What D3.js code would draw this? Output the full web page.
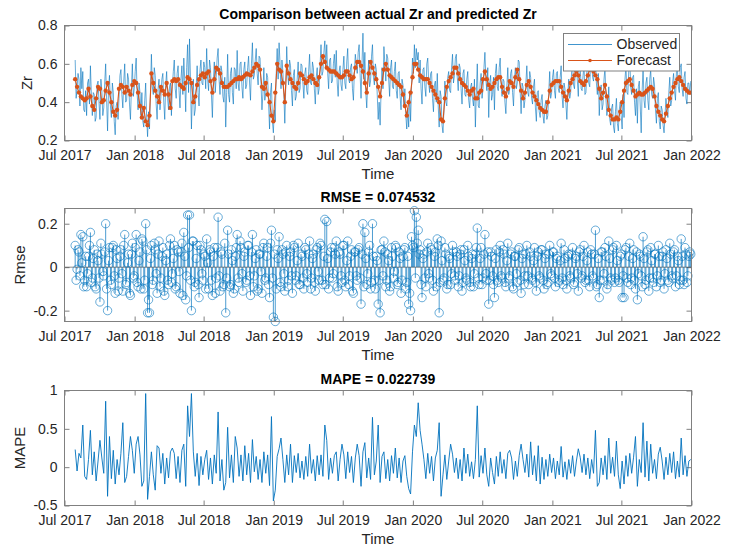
<!DOCTYPE html>
<html>
<head>
<meta charset="utf-8">
<script src="https://cdn.jsdelivr.net/npm/d3@7"></script>
<style>
  body { margin: 0; background: #fff; }
  text { font-family: Helvetica, Arial, "Liberation Sans", sans-serif; }
</style>
</head>
<body>
<svg id="fig"></svg>
<script>
// sampling of the series: main values every 5 days, "B" values half way between
const startDate = new Date(2017, 6, 29);
const stepDays = 5;

// Forecast Zr (orange, dots)
const forecast = [
  0.52,0.48,0.45,0.43,0.42,0.41,0.42,0.47,0.43,0.38,
  0.36,0.42,0.48,0.47,0.40,0.41,0.46,0.50,0.45,0.40,
  0.35,0.33,0.36,0.47,0.49,0.48,0.45,0.48,0.46,0.44,
  0.49,0.51,0.50,0.45,0.38,0.32,0.37,0.30,0.28,0.33,
  0.55,0.50,0.46,0.43,0.40,0.48,0.46,0.44,0.50,0.44,
  0.37,0.51,0.52,0.51,0.52,0.49,0.48,0.47,0.50,0.53,
  0.52,0.50,0.40,0.43,0.49,0.52,0.54,0.55,0.53,0.55,
  0.56,0.51,0.45,0.52,0.58,0.57,0.55,0.50,0.48,0.48,
  0.48,0.49,0.50,0.51,0.52,0.52,0.53,0.52,0.53,0.54,
  0.55,0.545,0.54,0.56,0.58,0.60,0.59,0.57,0.48,0.47,
  0.50,0.44,0.40,0.33,0.30,0.45,0.60,0.57,0.56,0.50,
  0.40,0.59,0.55,0.52,0.50,0.48,0.47,0.50,0.55,0.54,
  0.52,0.50,0.51,0.53,0.54,0.52,0.50,0.49,0.53,0.60,
  0.64,0.61,0.58,0.57,0.56,0.56,0.56,0.55,0.54,0.53,
  0.53,0.54,0.56,0.56,0.54,0.52,0.53,0.58,0.61,0.61,
  0.59,0.56,0.50,0.45,0.55,0.61,0.58,0.55,0.52,0.48,
  0.43,0.50,0.57,0.60,0.57,0.54,0.53,0.52,0.51,0.50,
  0.49,0.48,0.44,0.38,0.33,0.40,0.45,0.53,0.60,0.60,
  0.57,0.54,0.53,0.52,0.52,0.52,0.50,0.48,0.46,0.44,
  0.42,0.40,0.31,0.30,0.42,0.48,0.51,0.53,0.55,0.58,
  0.58,0.55,0.52,0.50,0.49,0.48,0.46,0.44,0.46,0.47,
  0.42,0.42,0.45,0.46,0.52,0.56,0.52,0.49,0.47,0.48,
  0.50,0.52,0.53,0.53,0.48,0.45,0.43,0.47,0.51,0.50,
  0.48,0.53,0.57,0.52,0.46,0.42,0.45,0.49,0.51,0.48,
  0.45,0.43,0.41,0.39,0.37,0.36,0.35,0.35,0.40,0.46,
  0.49,0.50,0.51,0.51,0.51,0.48,0.45,0.43,0.41,0.46,
  0.50,0.52,0.54,0.56,0.54,0.51,0.50,0.49,0.51,0.54,
  0.57,0.58,0.56,0.54,0.52,0.47,0.42,0.45,0.49,0.43,
  0.36,0.33,0.31,0.31,0.32,0.31,0.35,0.40,0.46,0.50,
  0.51,0.52,0.49,0.46,0.43,0.44,0.45,0.44,0.44,0.45,
  0.46,0.47,0.48,0.47,0.43,0.38,0.35,0.33,0.31,0.30,
  0.34,0.38,0.42,0.45,0.48,0.50,0.52,0.53,0.51,0.49,
  0.47,0.46,0.45,0.45
];

// Observed Zr (blue line), on the forecast dates
const observed = [
  0.62,0.47,0.52,0.58,0.56,0.35,0.33,0.52,0.59,0.33,
  0.44,0.32,0.51,0.31,0.46,0.37,0.60,0.25,0.54,0.32,
  0.45,0.23,0.40,0.42,0.57,0.37,0.60,0.41,0.52,0.31,
  0.60,0.47,0.63,0.36,0.45,0.45,0.27,0.50,0.22,0.26,
  0.65,0.44,0.54,0.31,0.52,0.43,0.55,0.31,0.56,0.36,
  0.50,0.48,0.62,0.42,0.59,0.37,0.59,0.63,0.35,0.70,
  0.73,0.26,0.52,0.36,0.59,0.38,0.62,0.49,0.58,0.68,
  0.46,0.58,0.32,0.61,0.53,0.68,0.44,0.56,0.40,0.27,
  0.65,0.40,0.58,0.39,0.57,0.67,0.46,0.61,0.42,0.61,
  0.49,0.64,0.41,0.71,0.54,0.68,0.49,0.63,0.36,0.58,
  0.45,0.53,0.26,0.50,0.24,0.30,0.68,0.71,0.47,0.56,
  0.29,0.69,0.49,0.59,0.38,0.57,0.43,0.61,0.47,0.59,
  0.42,0.58,0.44,0.65,0.49,0.58,0.39,0.58,0.47,0.70,
  0.56,0.72,0.70,0.47,0.63,0.51,0.65,0.67,0.43,0.59,
  0.46,0.64,0.47,0.68,0.50,0.60,0.41,0.65,0.55,0.70,
  0.42,0.76,0.66,0.37,0.62,0.51,0.70,0.49,0.57,0.31,
  0.28,0.58,0.69,0.51,0.63,0.43,0.62,0.47,0.61,0.42,
  0.56,0.36,0.49,0.47,0.26,0.27,0.30,0.63,0.70,0.68,
  0.66,0.62,0.39,0.58,0.43,0.63,0.45,0.56,0.35,0.51,
  0.55,0.27,0.43,0.24,0.51,0.38,0.56,0.45,0.65,0.54,
  0.65,0.46,0.58,0.39,0.57,0.43,0.56,0.37,0.50,0.38,
  0.27,0.60,0.37,0.55,0.47,0.66,0.46,0.32,0.54,0.44,
  0.36,0.60,0.46,0.63,0.43,0.51,0.34,0.58,0.47,0.57,
  0.38,0.58,0.50,0.61,0.34,0.48,0.41,0.59,0.43,0.53,
  0.39,0.52,0.30,0.46,0.32,0.44,0.29,0.41,0.33,0.56,
  0.45,0.57,0.42,0.56,0.45,0.59,0.37,0.47,0.31,0.52,
  0.45,0.61,0.47,0.61,0.43,0.59,0.46,0.59,0.45,0.61,
  0.48,0.64,0.51,0.65,0.44,0.33,0.49,0.39,0.58,0.33,
  0.48,0.28,0.39,0.24,0.42,0.25,0.40,0.26,0.32,0.59,
  0.44,0.63,0.44,0.54,0.33,0.29,0.51,0.24,0.58,0.37,
  0.53,0.36,0.57,0.42,0.49,0.29,0.45,0.26,0.36,0.24,
  0.42,0.32,0.53,0.41,0.55,0.41,0.57,0.45,0.60,0.43,
  0.56,0.39,0.50,0.51
];

// Observed Zr, dates half way between the ones above
const observedB = [
  0.42,0.55,0.38,0.47,0.36,0.46,0.50,0.39,0.44,0.45,
  0.30,0.49,0.40,0.52,0.33,0.50,0.41,0.47,0.38,0.50,
  0.30,0.38,0.31,0.54,0.44,0.51,0.40,0.55,0.39,0.47,
  0.43,0.56,0.45,0.50,0.33,0.30,0.41,0.32,0.35,0.45,
  0.48,0.58,0.39,0.47,0.36,0.52,0.40,0.49,0.42,0.48,
  0.33,0.56,0.47,0.55,0.46,0.52,0.44,0.51,0.58,0.45,
  0.52,0.44,0.33,0.48,0.45,0.57,0.50,0.61,0.47,0.52,
  0.62,0.44,0.50,0.45,0.63,0.52,0.59,0.43,0.53,0.45,
  0.44,0.55,0.45,0.58,0.47,0.50,0.60,0.48,0.57,0.47,
  0.58,0.50,0.60,0.52,0.62,0.55,0.64,0.50,0.44,0.41,
  0.55,0.39,0.45,0.30,0.36,0.55,0.52,0.60,0.62,0.44,
  0.48,0.55,0.62,0.46,0.54,0.41,0.52,0.45,0.60,0.50,
  0.55,0.46,0.56,0.50,0.61,0.47,0.53,0.44,0.59,0.54,
  0.66,0.58,0.55,0.62,0.50,0.60,0.53,0.50,0.56,0.49,
  0.57,0.50,0.61,0.52,0.58,0.47,0.56,0.60,0.66,0.55,
  0.60,0.52,0.45,0.51,0.48,0.64,0.53,0.60,0.44,0.40,
  0.45,0.47,0.60,0.65,0.52,0.58,0.48,0.56,0.46,0.55,
  0.43,0.52,0.38,0.33,0.37,0.45,0.48,0.55,0.58,0.62,
  0.50,0.47,0.57,0.48,0.60,0.50,0.55,0.42,0.49,0.40,
  0.38,0.46,0.28,0.36,0.40,0.53,0.46,0.58,0.50,0.63,
  0.53,0.60,0.47,0.55,0.44,0.52,0.41,0.48,0.42,0.52,
  0.45,0.38,0.50,0.42,0.58,0.52,0.58,0.50,0.41,0.53,
  0.55,0.48,0.58,0.49,0.52,0.40,0.48,0.44,0.55,0.45,
  0.52,0.47,0.62,0.46,0.50,0.37,0.50,0.45,0.56,0.42,
  0.48,0.37,0.45,0.35,0.41,0.33,0.38,0.31,0.45,0.42,
  0.53,0.46,0.55,0.47,0.53,0.43,0.50,0.39,0.44,0.42,
  0.56,0.49,0.58,0.51,0.60,0.47,0.54,0.44,0.56,0.50,
  0.62,0.53,0.60,0.50,0.55,0.45,0.36,0.52,0.42,0.38,
  0.31,0.37,0.27,0.35,0.29,0.36,0.33,0.44,0.52,0.45,
  0.57,0.48,0.53,0.40,0.47,0.48,0.38,0.46,0.41,0.50,
  0.41,0.52,0.44,0.53,0.36,0.42,0.30,0.38,0.28,0.33,
  0.36,0.45,0.38,0.50,0.46,0.56,0.48,0.58,0.47,0.53,
  0.42,0.50,0.44
];

// error (stem plot), on the forecast dates
const residual = [
  0.10,-0.01,0.07,0.15,0.14,-0.06,-0.09,0.05,0.16,-0.05,
  0.08,-0.10,0.03,-0.16,0.06,-0.04,0.20,-0.20,0.09,-0.08,
  0.10,-0.12,0.04,-0.05,0.08,-0.11,0.15,-0.07,0.06,-0.13,
  0.11,-0.04,0.15,-0.09,0.07,0.13,-0.10,0.20,-0.21,-0.21,
  0.10,-0.06,0.08,-0.12,0.12,-0.05,0.09,-0.13,0.06,-0.08,
  0.13,-0.03,0.10,-0.09,0.07,-0.12,0.11,0.16,-0.15,0.24,
  0.24,-0.20,0.12,-0.07,0.10,-0.14,0.08,-0.06,0.05,0.13,
  -0.10,0.07,-0.13,0.09,-0.05,0.23,-0.11,0.06,-0.08,-0.21,
  0.17,-0.09,0.08,-0.12,0.05,0.15,-0.07,0.09,-0.11,0.07,
  -0.06,0.10,-0.13,0.15,-0.04,0.08,-0.10,0.06,-0.12,0.11,
  -0.05,0.09,-0.14,0.17,-0.23,-0.25,0.08,0.14,-0.09,0.06,
  -0.11,0.10,-0.06,0.07,-0.12,0.09,-0.04,0.11,-0.08,0.05,
  -0.10,0.08,-0.07,0.12,-0.05,0.06,-0.11,0.09,-0.06,0.10,
  -0.08,0.22,0.21,-0.10,0.07,-0.05,0.09,0.12,-0.11,0.06,
  -0.07,0.10,-0.09,0.12,-0.04,0.08,-0.12,0.07,-0.06,0.09,
  -0.17,0.20,0.16,-0.08,0.07,-0.10,0.20,-0.06,0.05,-0.17,
  -0.21,0.08,0.12,-0.09,0.06,-0.11,0.09,-0.05,0.10,-0.08,
  0.07,-0.12,0.05,0.09,-0.07,-0.17,-0.20,0.10,0.26,0.23,
  0.17,0.08,-0.14,0.06,-0.09,0.11,-0.05,0.08,-0.11,0.07,
  0.13,-0.21,0.12,-0.06,0.09,-0.10,0.05,-0.08,0.10,-0.04,
  0.07,-0.09,0.06,-0.11,0.08,-0.05,0.10,-0.07,0.04,-0.09,
  0.06,0.18,-0.08,0.09,-0.05,0.15,-0.06,-0.17,0.07,-0.04,
  -0.14,0.08,-0.07,0.10,-0.05,0.06,-0.09,0.11,-0.04,0.07,
  -0.10,0.05,-0.07,0.09,-0.12,0.06,-0.04,0.10,-0.08,0.05,
  -0.06,0.09,-0.11,0.07,-0.05,0.08,-0.10,0.06,-0.07,0.10,
  -0.04,0.07,-0.09,0.05,-0.06,0.11,-0.08,0.04,-0.10,0.06,
  -0.05,0.09,-0.07,0.05,-0.11,0.08,-0.04,0.10,-0.06,0.07,
  -0.09,0.06,-0.05,0.17,-0.08,-0.14,0.07,-0.06,0.09,-0.10,
  0.12,-0.05,0.08,-0.07,0.10,-0.06,0.05,-0.14,-0.14,0.09,
  -0.07,0.11,-0.05,0.08,-0.10,-0.15,0.06,-0.04,0.14,-0.08,
  0.07,-0.11,0.09,-0.05,0.06,-0.09,0.10,-0.07,0.05,-0.10,
  0.08,-0.06,0.11,-0.04,0.07,-0.09,0.05,-0.08,0.13,-0.06,
  0.09,-0.07,0.05,0.06
];

// error, dates half way between the ones above
const residualB = [
  -0.06,0.08,-0.04,0.02,-0.09,0.05,-0.03,0.10,-0.07,0.04,
  -0.09,0.06,-0.05,0.11,-0.02,0.07,-0.10,0.03,-0.06,0.09,
  -0.04,0.08,-0.11,0.05,-0.03,0.10,-0.08,0.02,-0.12,0.06,
  -0.05,0.09,-0.07,0.03,-0.10,0.12,-0.06,0.08,-0.15,0.04,
  -0.08,0.11,-0.03,0.06,-0.09,0.05,-0.11,0.03,-0.06,0.10,
  -0.07,0.04,-0.10,0.08,-0.02,0.07,-0.13,0.05,-0.04,0.09,
  -0.06,0.12,-0.09,0.04,-0.08,0.10,-0.03,0.06,-0.10,0.02,
  0.08,-0.06,0.05,-0.12,0.09,-0.04,0.07,-0.09,0.11,-0.05,
  0.06,-0.08,0.03,-0.10,0.09,-0.05,0.12,-0.03,0.05,-0.07,
  0.10,-0.04,0.07,-0.09,0.04,-0.11,0.06,-0.02,0.09,-0.06,
  0.05,-0.08,0.11,-0.05,0.06,-0.10,0.04,-0.07,0.08,-0.03,
  0.07,-0.09,0.05,-0.04,0.10,-0.06,0.03,-0.08,0.06,-0.05,
  0.09,-0.03,0.06,-0.10,0.04,-0.07,0.08,-0.02,0.11,-0.06,
  0.05,-0.08,0.04,-0.05,0.09,-0.03,0.06,-0.09,0.07,-0.04,
  0.10,-0.06,0.03,-0.08,0.05,-0.11,0.07,-0.04,0.08,-0.05,
  0.06,-0.09,0.04,-0.03,0.10,-0.07,0.05,-0.10,0.03,-0.06,
  0.08,-0.04,0.07,-0.06,0.03,-0.09,0.05,-0.02,0.09,-0.07,
  0.04,-0.06,0.08,-0.10,0.05,-0.12,0.14,0.09,-0.05,0.11,
  0.06,-0.08,0.04,-0.05,0.07,-0.03,0.09,-0.06,0.05,-0.09,
  0.10,-0.07,0.03,-0.05,0.06,-0.08,0.04,-0.03,0.07,-0.06,
  0.05,-0.04,0.08,-0.07,0.03,-0.06,0.05,-0.09,0.06,-0.03,
  0.09,-0.05,0.04,-0.08,0.06,-0.03,0.07,-0.06,0.05,-0.08,
  0.04,-0.06,0.07,-0.04,0.08,-0.07,0.03,-0.05,0.06,-0.09,
  0.05,-0.03,0.08,-0.06,0.04,-0.08,0.06,-0.04,0.07,-0.05,
  0.03,-0.07,0.05,-0.04,0.08,-0.06,0.04,-0.08,0.06,-0.03,
  0.07,-0.05,0.04,-0.07,0.03,-0.05,0.08,-0.06,0.05,-0.04,
  0.06,-0.08,0.04,-0.03,0.07,-0.05,0.05,-0.07,0.03,-0.06,
  0.08,-0.04,0.06,-0.09,0.04,-0.06,0.07,-0.03,0.05,-0.08,
  0.04,-0.06,0.09,-0.05,0.03,-0.07,0.06,-0.04,0.08,-0.05,
  0.05,-0.08,0.04,-0.06,0.07,-0.03,0.05,-0.09,0.04,-0.06,
  0.08,-0.05,0.03,-0.07,0.06,-0.04,0.05,-0.06,0.07,-0.03,
  0.04,-0.07,0.06,-0.05,0.08,-0.04,0.03,-0.06,0.05,-0.08,
  0.06,-0.04,0.07
];

// percentage error (line)
const mape = [
  0.23,-0.05,0.18,0.12,0.55,-0.12,-0.16,0.10,0.48,-0.10,
  0.20,-0.18,0.08,0.35,0.12,-0.08,0.86,-0.38,0.40,-0.15,
  0.22,-0.22,0.10,-0.10,0.18,0.58,-0.20,-0.12,0.14,0.40,
  0.22,-0.08,0.30,0.40,0.16,-0.25,-0.18,0.96,-0.42,-0.12,
  0.20,-0.10,-0.30,0.28,0.25,-0.08,0.18,-0.22,0.12,-0.14,
  0.20,0.25,0.18,-0.15,0.14,-0.20,0.22,0.30,-0.25,0.80,
  0.40,0.96,0.20,-0.12,0.18,-0.24,0.14,-0.10,0.10,0.22,
  -0.16,0.12,-0.22,0.16,-0.08,0.72,-0.18,0.10,-0.30,-0.20,
  0.52,-0.14,0.16,-0.20,0.40,0.25,-0.12,0.16,-0.18,0.28,
  -0.10,0.18,-0.20,0.36,-0.06,0.14,-0.16,0.10,-0.20,0.20,
  -0.08,0.16,-0.24,0.66,-0.44,-0.30,0.14,0.24,0.38,0.10,
  -0.20,0.16,-0.10,0.30,-0.20,0.15,-0.07,0.18,-0.14,0.08,
  -0.16,0.14,-0.12,0.30,-0.08,0.10,-0.18,0.15,-0.10,0.16,
  -0.12,0.55,0.35,-0.16,0.12,-0.08,0.15,0.20,-0.18,0.10,
  0.30,0.16,-0.15,0.20,-0.07,0.14,-0.20,0.12,0.30,0.15,
  -0.25,0.20,0.32,-0.14,0.12,-0.16,0.65,-0.10,0.08,0.55,
  -0.20,0.14,0.20,-0.15,0.10,-0.18,0.15,-0.08,0.25,-0.14,
  0.12,-0.20,0.08,0.15,-0.12,-0.28,-0.35,0.20,0.55,0.40,
  0.84,0.48,0.30,0.10,-0.15,0.18,-0.08,0.14,-0.18,0.12,
  0.22,0.58,-0.38,-0.10,0.16,-0.16,0.08,0.30,0.17,-0.07,
  0.12,-0.15,0.10,-0.18,0.25,-0.08,0.17,-0.12,0.07,-0.15,
  0.10,0.80,-0.13,0.15,-0.08,0.25,-0.10,-0.25,0.12,-0.07,
  -0.22,0.14,-0.12,0.20,-0.08,0.10,-0.15,0.18,0.22,0.12,
  -0.16,0.08,-0.12,0.15,0.30,0.10,-0.07,0.17,-0.13,0.33,
  -0.10,0.15,-0.18,0.28,-0.22,0.13,-0.16,0.10,-0.12,0.17,
  -0.07,0.12,-0.15,0.08,-0.10,0.27,-0.13,0.07,-0.16,0.10,
  -0.08,0.15,-0.12,0.08,0.24,0.13,-0.07,0.17,-0.10,0.12,
  -0.15,0.10,-0.08,0.48,-0.25,-0.20,0.12,-0.10,0.15,-0.16,
  0.38,-0.08,0.13,-0.12,0.34,-0.10,-0.28,0.08,-0.22,0.15,
  -0.12,0.18,-0.08,0.13,0.40,-0.25,0.10,-0.07,0.58,-0.13,
  0.34,-0.18,0.30,-0.08,0.10,-0.15,0.17,0.26,0.08,-0.16,
  0.13,-0.10,0.18,-0.07,0.20,-0.15,0.08,-0.13,0.38,-0.10,
  0.15,-0.12,0.08,0.10
];

// axis ticks
const zrTicks = [0.2, 0.4, 0.6, 0.8];
const rmseTicks = [-0.2, 0, 0.2];
const mapeTicks = [-0.5, 0, 0.5, 1];
const xStart = new Date(2017, 6, 1);
const xEnd = new Date(2022, 0, 1);

const W = 733, H = 549;
const left = 64.5, right = 691.5;
const blue = "#0072BD", orange = "#D95319";
const axisGray = "#808080", textColor = "#262626";

const svg = d3.select("#fig").attr("width", W).attr("height", H);
svg.append("rect").attr("width", W).attr("height", H).attr("fill", "#fff");

const dates = forecast.map((_, i) => d3.timeDay.offset(startDate, i * stepDays));
const midDates = observedB.map((_, i) => d3.timeHour.offset(dates[i], stepDays * 12));

// observed series in date order: main and half-step values interleaved
const obsSeries = observed.flatMap((v, i) =>
  i < observedB.length ? [[dates[i], v], [midDates[i], observedB[i]]] : [[dates[i], v]]);
const resSeries = residual.map((v, i) => [dates[i], v])
  .concat(residualB.map((v, i) => [midDates[i], v]));

const x = d3.scaleTime().domain([xStart, xEnd]).range([left, right]);
const xTickDates = d3.timeMonth.every(6).range(xStart, d3.timeDay.offset(xEnd, 1));
const fmtX = d3.timeFormat("%b %Y");
const fmtY = d => String(d); // plain hyphen like MATLAB

// draws the frame, ticks, title and labels of one subplot, returns the y scale
function makeAxes(cfg) {
  const y = d3.scaleLinear().domain(cfg.domain).range([cfg.bottom, cfg.top]);
  const g = svg.append("g");

  g.append("clipPath").attr("id", cfg.id)
    .append("rect")
    .attr("x", left).attr("y", cfg.top)
    .attr("width", right - left).attr("height", cfg.bottom - cfg.top);

  // bottom axis with labels, ticks pointing inside
  const gx = g.append("g")
      .attr("transform", `translate(0,${cfg.bottom})`)
      .call(d3.axisBottom(x).tickValues(xTickDates).tickFormat(fmtX).tickSize(-5).tickPadding(9.5));
  // top ticks only
  const gt = g.append("g")
      .attr("transform", `translate(0,${cfg.top})`)
      .call(d3.axisTop(x).tickValues(xTickDates).tickFormat("").tickSize(-5));
  const gy = g.append("g")
      .attr("transform", `translate(${left},0)`)
      .call(d3.axisLeft(y).tickValues(cfg.ticks).tickFormat(fmtY).tickSize(-5).tickPadding(7));
  const gr = g.append("g")
      .attr("transform", `translate(${right},0)`)
      .call(d3.axisRight(y).tickValues(cfg.ticks).tickFormat("").tickSize(-5));

  [gx, gt, gy, gr].forEach(a => {
    a.call(s => s.select(".domain").remove());
    a.selectAll(".tick line").attr("stroke", axisGray);
    a.selectAll("text")
      .attr("fill", textColor)
      .style("font-size", "14px")
      .style("font-family", "Helvetica, Arial, 'Liberation Sans', sans-serif");
  });

  cfg.drawData(g, y);

  g.append("rect")
    .attr("x", left).attr("y", cfg.top)
    .attr("width", right - left).attr("height", cfg.bottom - cfg.top)
    .attr("fill", "none").attr("stroke", axisGray).attr("stroke-width", 1);

  g.append("text")
    .attr("x", (left + right) / 2).attr("y", cfg.top - 7)
    .attr("text-anchor", "middle")
    .attr("fill", "#000")
    .style("font-size", "14px").style("font-weight", "bold")
    .text(cfg.title);

  g.append("text")
    .attr("x", (left + right) / 2).attr("y", cfg.bottom + 38)
    .attr("text-anchor", "middle")
    .attr("fill", textColor)
    .style("font-size", "15px")
    .text("Time");

  g.append("text")
    .attr("transform", `translate(${cfg.labelX},${(cfg.top + cfg.bottom) / 2}) rotate(-90)`)
    .attr("text-anchor", "middle")
    .attr("fill", textColor)
    .style("font-size", "15px")
    .text(cfg.label);

  return {y, g};
}

// --- subplot 1: observed vs forecast
const p1 = makeAxes({id: "c1", top: 25.5, bottom: 140.5, domain: [0.2, 0.8], ticks: zrTicks,
  title: "Comparison between actual Zr and predicted Zr", label: "Zr", labelX: 31.5,
  drawData: (g, y) => {
    const plot = g.append("g").attr("clip-path", "url(#c1)");
    plot.append("path").datum(obsSeries)
      .attr("d", d3.line().x(d => x(d[0])).y(d => y(d[1])))
      .attr("fill", "none")
      .attr("stroke", blue).attr("stroke-width", 0.7).attr("stroke-opacity", 0.85);
    plot.append("path").datum(forecast)
      .attr("d", d3.line().x((d, i) => x(dates[i])).y(d => y(d)))
      .attr("fill", "none")
      .attr("stroke", orange).attr("stroke-width", 1.1);
    plot.append("g").selectAll("circle").data(forecast).join("circle")
      .attr("cx", (d, i) => x(dates[i])).attr("cy", d => y(d))
      .attr("r", 2.2).attr("fill", orange);
  }});

// legend
const lg = p1.g.append("g");
lg.append("rect").attr("x", 563.5).attr("y", 33.5).attr("width", 116).attr("height", 37.5)
  .attr("fill", "#fff").attr("stroke", axisGray);
lg.append("line").attr("x1", 568).attr("x2", 612).attr("y1", 44.5).attr("y2", 44.5)
  .attr("stroke", blue).attr("stroke-width", 1).attr("stroke-opacity", 0.75);
lg.append("line").attr("x1", 568).attr("x2", 612).attr("y1", 60.5).attr("y2", 60.5)
  .attr("stroke", orange).attr("stroke-width", 1);
lg.append("circle").attr("cx", 590).attr("cy", 60.5).attr("r", 1.8).attr("fill", orange);
lg.selectAll("text.lab").data(["Observed", "Forecast"]).join("text")
  .attr("x", 616.5).attr("y", (d, i) => 44.5 + i * 16).attr("dy", "0.35em")
  .attr("fill", textColor).style("font-size", "14px").text(d => d);

// --- subplot 2: stem plot of the error
makeAxes({id: "c2", top: 208.5, bottom: 321.5, domain: [-0.25, 0.27], ticks: rmseTicks,
  title: "RMSE = 0.074532", label: "Rmse", labelX: 25,
  drawData: (g, y) => {
    g.append("g").attr("clip-path", "url(#c2)")
      .selectAll("line").data(resSeries).join("line")
      .attr("x1", d => x(d[0])).attr("x2", d => x(d[0]))
      .attr("y1", y(0)).attr("y2", d => y(d[1]))
      .attr("stroke", blue).attr("stroke-width", 0.7);
    g.append("line")
      .attr("x1", left).attr("x2", right).attr("y1", y(0)).attr("y2", y(0))
      .attr("stroke", "#3a3a3a").attr("stroke-width", 0.6);
    g.append("g").selectAll("circle").data(resSeries).join("circle")
      .attr("cx", d => x(d[0])).attr("cy", d => y(d[1]))
      .attr("r", 4.2).attr("fill", "none")
      .attr("stroke", blue).attr("stroke-width", 0.7).attr("stroke-opacity", 0.85);
  }});

// --- subplot 3: MAPE line
makeAxes({id: "c3", top: 390.5, bottom: 505.5, domain: [-0.5, 1], ticks: mapeTicks,
  title: "MAPE = 0.022739", label: "MAPE", labelX: 25,
  drawData: (g, y) => {
    g.append("g").attr("clip-path", "url(#c3)")
      .append("path").datum(mape)
      .attr("d", d3.line().x((d, i) => x(dates[i])).y(d => y(d)))
      .attr("fill", "none")
      .attr("stroke", blue).attr("stroke-width", 0.9);
  }});
</script>
</body>
</html>
